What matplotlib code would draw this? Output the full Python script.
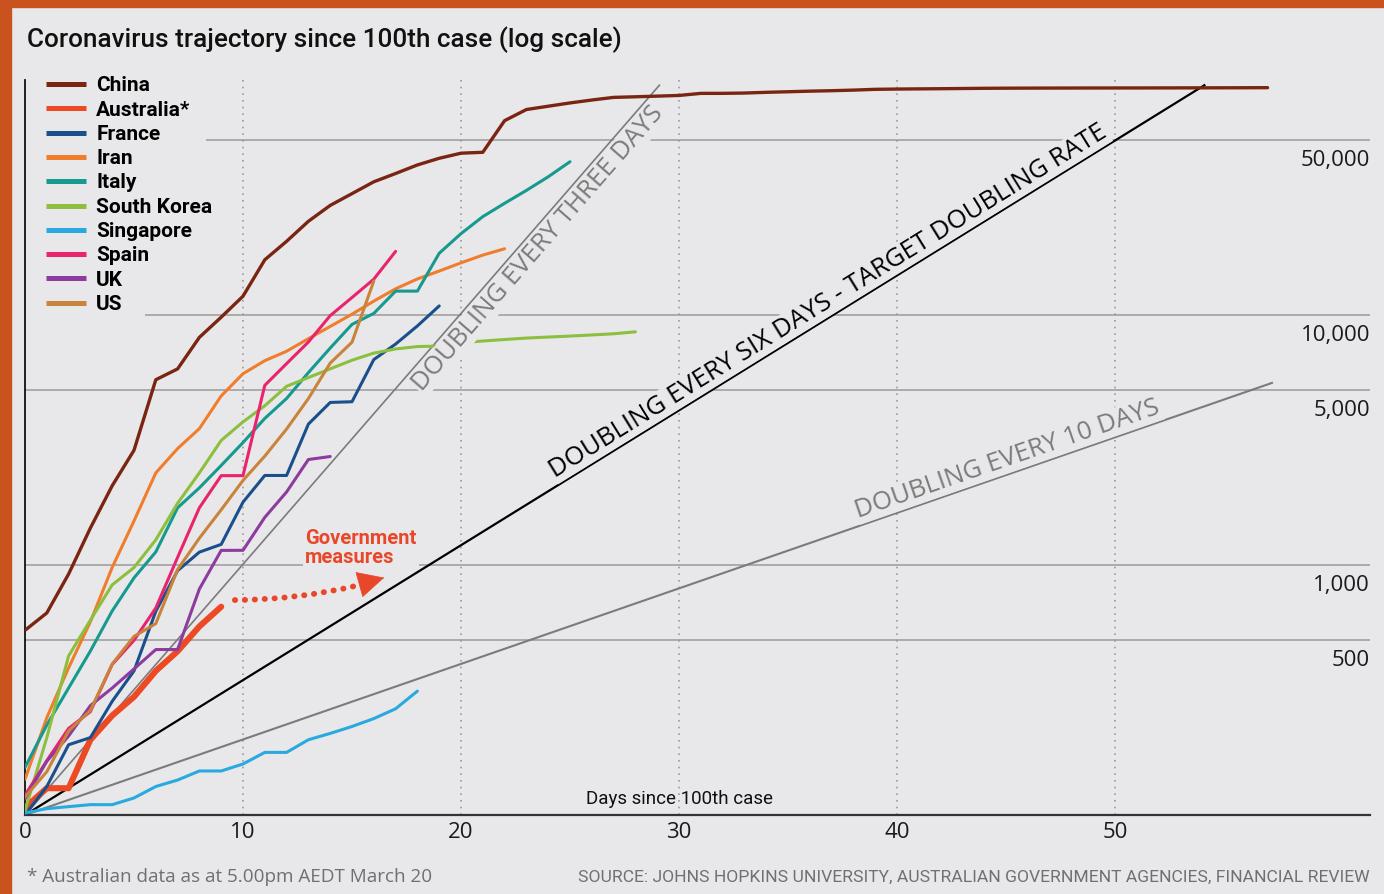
import matplotlib
matplotlib.use("Agg")
import numpy as np
import matplotlib.pyplot as plt
from matplotlib import font_manager, transforms
from matplotlib.patches import Rectangle


# ---------------------------------------------------------------------------
# Data: confirmed cases, one value per day since each country's 100th case
# ---------------------------------------------------------------------------

china = [548, 643, 920, 1406, 2075, 2877, 5509, 6087, 8141, 9802,
         11891, 16630, 19716, 23707, 27440, 30587, 34110, 36814, 39829, 42354,
         44386, 44759, 59895, 66358, 68413, 70513, 72434, 74211, 74619, 75077,
         75550, 77001, 77022, 77241, 77754, 78166, 78600, 78928, 79356, 79932,
         80136, 80261, 80386, 80537, 80690, 80770, 80823, 80860, 80887, 80921,
         80932, 80945, 80977, 81003, 81033, 81058, 81102, 81156]
australia = [107, 128, 128, 200, 250, 297, 377, 452, 568, 681]
france = [100, 130, 191, 204, 285, 377, 653, 949, 1126, 1209,
          1784, 2281, 2281, 3661, 4469, 4499, 6633, 7652, 9043, 10871]
iran = [139, 245, 388, 593, 978, 1501, 2336, 2922, 3513, 4747,
        5823, 6566, 7161, 8042, 9000, 10075, 11364, 12729, 13938, 14991,
        16169, 17361, 18407]
italy = [155, 229, 322, 453, 655, 888, 1128, 1694, 2036, 2502,
         3089, 3858, 4636, 5883, 7375, 9172, 10149, 12462, 12462, 17660,
         21157, 24747, 27980, 31506, 35713, 41035]
south_korea = [104, 204, 433, 602, 833, 977, 1261, 1766, 2337, 3150,
               3736, 4335, 5186, 5621, 6088, 6593, 7041, 7314, 7478, 7513,
               7755, 7869, 7979, 8086, 8162, 8236, 8320, 8413, 8565]
singapore = [102, 106, 108, 110, 110, 117, 130, 138, 150, 150,
             160, 178, 178, 200, 212, 226, 243, 266, 313]
spain = [120, 165, 222, 259, 400, 500, 673, 1073, 1695, 2277,
         2277, 5232, 6391, 7798, 9942, 11748, 13910, 17963]
uk = [116, 164, 207, 274, 322, 384, 459, 459, 802, 1144,
      1145, 1551, 1960, 2642, 2716]
us = [118, 149, 217, 262, 402, 518, 583, 959, 1281, 1663,
      2179, 2727, 3499, 4632, 6421, 7783, 13677]

countries = ["China", "Australia*", "France", "Iran", "Italy",
             "South Korea", "Singapore", "Spain", "UK", "US"]
series = [china, australia, france, iran, italy,
          south_korea, singapore, spain, uk, us]

# reference doubling lines, all starting at 100 cases on day 0
ref_labels = ["DOUBLING EVERY THREE DAYS",
              "DOUBLING EVERY SIX DAYS - TARGET DOUBLING RATE",
              "DOUBLING EVERY 10 DAYS"]
ref_end_day = [29.1, 54.1, 57.2]
ref_end_cases = [83000, 83000, 5350]

x_ticks = [0, 10, 20, 30, 40, 50]
y_ticks = [500, 1000, 5000, 10000, 50000]
y_tick_labels = ["500", "1,000", "5,000", "10,000", "50,000"]

title = "Coronavirus trajectory since 100th case (log scale)"
x_title = "Days since 100th case"
note = "* Australian data as at 5.00pm AEDT March 20"
source = ("SOURCE: JOHNS HOPKINS UNIVERSITY, AUSTRALIAN GOVERNMENT AGENCIES, "
          "FINANCIAL REVIEW")
measures_text = "Government\nmeasures"


# ---------------------------------------------------------------------------
# Styling
# ---------------------------------------------------------------------------

colors = ["#7a2512", "#ec4a24", "#1b4f8c", "#f07d2b", "#16998f",
          "#8dbf3e", "#28a9e0", "#e9246c", "#8d3b9e", "#c8843a"]
widths = [2.4, 4.4, 2.2, 2.2, 2.2, 2.2, 2.2, 2.2, 2.2, 2.2]
ref_colors = ["#7b7b7b", "#000000", "#7b7b7b"]
ref_widths = [1.2, 1.6, 1.5]
ref_label_day = [23.0, 37.2, 45.3]
ref_label_side = ["below", "above", "above"]

BG = "#e8e8ea"
BORDER = "#c9521f"
GRID = "#9a9a9a"
RED = "#e8472a"

W, H = 1384, 894


def have_font(name):
    try:
        font_manager.findfont(font_manager.FontProperties(family=name),
                              fallback_to_default=False)
        return True
    except ValueError:
        return False


NARROW = "Liberation Sans Narrow" if have_font("Liberation Sans Narrow") else "Roboto"
BODY = "Open Sans" if have_font("Open Sans") else "DejaVu Sans"


def fx(px):
    return px / W


def fy(py):
    return 1 - py / H


fig = plt.figure(figsize=(W / 100, H / 100), dpi=100, facecolor=BG)
ax = fig.add_axes([fx(25), fy(815), (1370 - 25) / W, (815 - 80) / H])
ax.set_facecolor("none")
ax.set_yscale("log")
ax.set_xlim(0, (1370 - 25) / 21.8)
ax.set_ylim(100, 87100)

# orange frame strips
fig.patches.append(Rectangle((0, 0), fx(11), 1, transform=fig.transFigure,
                             color=BORDER, zorder=0))
fig.patches.append(Rectangle((0, fy(7)), 1, 7 / H, transform=fig.transFigure,
                             color=BORDER, zorder=0))

# gridlines (the top two stop short of the legend)
grid_start = {50000: 8.3, 10000: 5.5}
for v in y_ticks:
    ax.hlines(v, grid_start.get(v, 0), ax.get_xlim()[1], color=GRID, lw=1.1,
              zorder=1)
for d in x_ticks[1:]:
    ax.axvline(d, color=GRID, lw=1.2, ls=(0, (1, 3)), zorder=1)

label_tr = transforms.offset_copy(
    transforms.blended_transform_factory(ax.transAxes, ax.transData),
    fig=fig, y=-26, units="dots")
for v, lab in zip(y_ticks, y_tick_labels):
    ax.text(1.0, v, lab, transform=label_tr, ha="right", va="baseline",
            fontsize=16, family=BODY, color="#1a1a1a")

ax.set_xticks(x_ticks)
ax.set_xticklabels([str(t) for t in x_ticks])
ax.set_yticks([])
ax.minorticks_off()
ax.tick_params(axis="x", length=0, pad=5, labelsize=16, labelcolor="#1a1a1a")
for t in ax.get_xticklabels():
    t.set_family(BODY)
for s in ["top", "right"]:
    ax.spines[s].set_visible(False)
ax.spines["left"].set_color("#111111")
ax.spines["left"].set_linewidth(1.3)
ax.spines["bottom"].set_color("#333333")
ax.spines["bottom"].set_linewidth(1.6)

# reference doubling lines and their labels
for lab, d1, c1, col, lw, ld, side in zip(ref_labels, ref_end_day, ref_end_cases,
                                         ref_colors, ref_widths, ref_label_day,
                                         ref_label_side):
    ax.plot([0, d1], [100, c1], color=col, lw=lw, zorder=2)
    p0 = ax.transData.transform((0, 100))
    p1 = ax.transData.transform((d1, c1))
    ang = np.degrees(np.arctan2(p1[1] - p0[1], p1[0] - p0[0]))
    yv = 100 * (c1 / 100) ** (ld / d1)
    off = 2 if side == "above" else -3
    tr = transforms.offset_copy(ax.transData, fig=fig, units="dots",
                                x=-off * np.sin(np.radians(ang)),
                                y=off * np.cos(np.radians(ang)))
    ax.text(ld, yv, lab, transform=tr, rotation=ang, rotation_mode="anchor",
            ha="center", va="bottom" if side == "above" else "top",
            fontsize=18.5, family=BODY, color=col, zorder=6,
            bbox=dict(boxstyle="square,pad=0.05", fc=BG, ec="none"))

# country lines
handles = []
for name, vals, col, lw in zip(countries, series, colors, widths):
    days = np.arange(len(vals))
    ln, = ax.plot(days, vals, color=col, lw=lw, label=name, zorder=4,
                  solid_capstyle="round", solid_joinstyle="round")
    handles.append(ln)

# government measures arrow
ax.annotate("", xy=(15.3, 830), xytext=(9.5, 724),
            arrowprops=dict(arrowstyle="-", color=RED, lw=4.2,
                            ls=(0, (0.05, 1.65)), capstyle="round",
                            connectionstyle="arc3,rad=0.06"), zorder=5)
ax.annotate("", xy=(16.6, 896), xytext=(15.4, 838),
            arrowprops=dict(arrowstyle="-|>,head_length=1.8,head_width=0.9",
                            color=RED, lw=0.5), zorder=5)
ax.text(12.85, 1170, measures_text, ha="left", va="center", fontsize=14.5,
        family=NARROW, weight="bold", color=RED, linespacing=0.95, zorder=6,
        bbox=dict(boxstyle="square,pad=0.1", fc=BG, ec="none"))

ax.text(30, 0.015, x_title, transform=transforms.blended_transform_factory(
    ax.transData, ax.transAxes), ha="center", va="baseline", fontsize=13.5,
    family=NARROW, color="#111111")

leg = ax.legend(handles=handles, loc="upper left",
                bbox_to_anchor=(fx(40), fy(70)), bbox_transform=fig.transFigure,
                frameon=False, borderpad=0.3, borderaxespad=0,
                handlelength=1.9, handletextpad=0.5, labelspacing=0.255,
                prop=dict(family=NARROW, weight="bold", size=15))
leg.set_zorder(7)
for lh in leg.legend_handles:
    lh.set_linewidth(3.6)
    lh.set_solid_capstyle("butt")

fig.text(fx(27), fy(47), title, ha="left", va="baseline", fontsize=18.8,
         family=NARROW, weight="medium", color="#111111")
fig.text(fx(27), fy(882), note, ha="left", va="baseline", fontsize=13.6,
         family=BODY, color="#707070")
fig.text(fx(1370), fy(882), source, ha="right", va="baseline", fontsize=12.6,
         family=NARROW, color="#707070")

fig.savefig("out.png", dpi=100, facecolor=BG)
